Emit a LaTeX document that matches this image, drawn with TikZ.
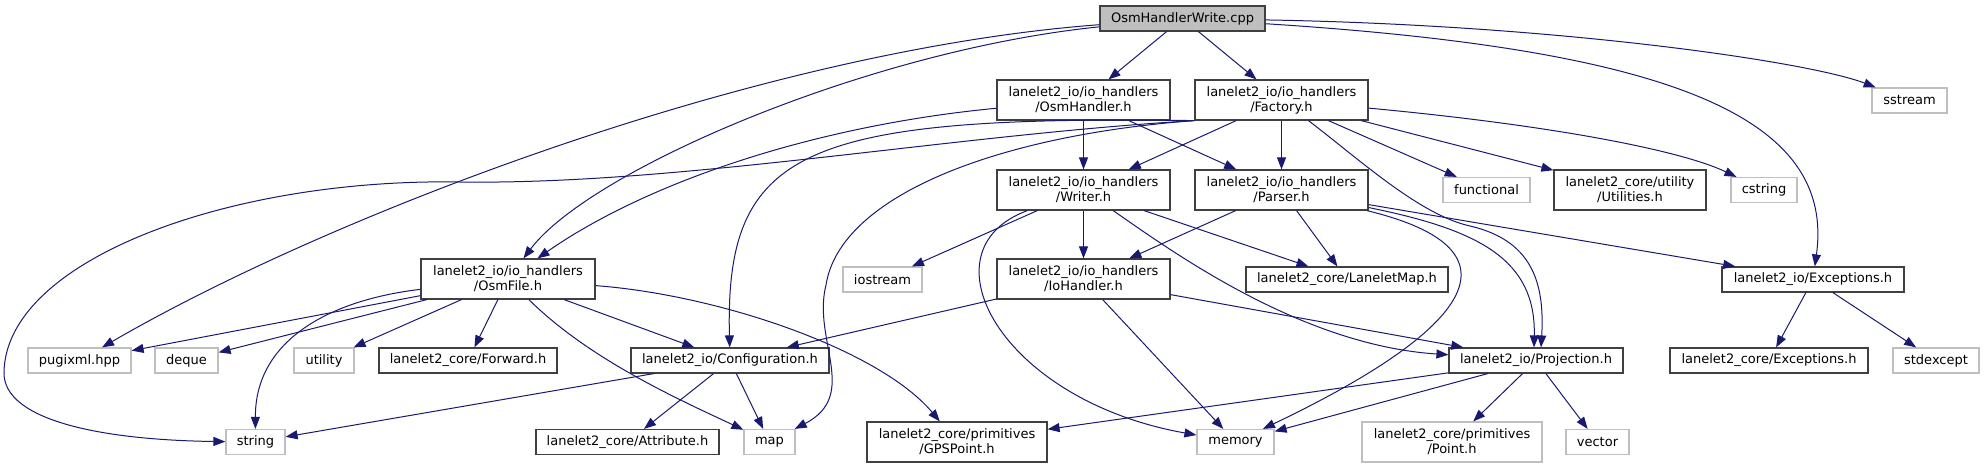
\documentclass[tikz,border=0pt]{standalone}
\usepackage{fontspec}
\setmainfont{DejaVu Sans}
\usepackage{tikz}
\usetikzlibrary{arrows.meta}
\definecolor{edgeblue}{HTML}{191970}
\definecolor{extgray}{HTML}{BFBFBF}
\definecolor{docgray}{HTML}{404040}
\tikzset{
filebox/.style={
  draw=docgray,
  line width=1.2pt,
  fill=white,
  inner sep=0pt,
  minimum height=25pt,
  align=center,
  font=\fontsize{13}{15}\selectfont
  },
docbox/.style={filebox},
extbox/.style={filebox, draw=extgray},
rootbox/.style={filebox, fill=extgray},
tall/.style={minimum height=40pt},
line/.style={->,>={Triangle[length=12pt,width=9pt]}, draw=edgeblue, line width=1pt}
}
\begin{document}
\begin{tikzpicture}[x=1pt,y=-1pt]
\useasboundingbox (0,0) rectangle (1985,469);
\node[rootbox, minimum width=165] (root) at (1182.5,18.5) {OsmHandlerWrite.cpp};

\node[docbox, tall, minimum width=173] (osmhandler) at (1083.5,100) {lanelet2\_io/io\_handlers\\/OsmHandler.h};
\node[docbox, tall, minimum width=173] (factory) at (1281.5,100) {lanelet2\_io/io\_handlers\\/Factory.h};
\node[extbox, minimum width=75] (sstream) at (1909.5,100.5) {sstream};

\node[docbox, tall, minimum width=173] (writer) at (1083.5,190) {lanelet2\_io/io\_handlers\\/Writer.h};
\node[docbox, tall, minimum width=173] (parser) at (1281.5,190) {lanelet2\_io/io\_handlers\\/Parser.h};
\node[extbox, minimum width=87] (functional) at (1486.5,190) {functional};
\node[docbox, tall, minimum width=152] (utilities) at (1630,190) {lanelet2\_core/utility\\/Utilities.h};
\node[extbox, minimum width=66] (cstring) at (1764,190) {cstring};

\node[docbox, tall, minimum width=174] (osmfile) at (508,279) {lanelet2\_io/io\_handlers\\/OsmFile.h};
\node[extbox, minimum width=79] (iostream) at (882.5,279.5) {iostream};
\node[docbox, tall, minimum width=173] (iohandler) at (1083.5,279) {lanelet2\_io/io\_handlers\\/IoHandler.h};
\node[docbox, minimum width=202] (laneletmap) at (1347,279.5) {lanelet2\_core/LaneletMap.h};
\node[docbox, minimum width=182] (ioexc) at (1813,279.5) {lanelet2\_io/Exceptions.h};

\node[extbox, minimum width=103] (pugixml) at (79.5,360.5) {pugixml.hpp};
\node[extbox, minimum width=63] (deque) at (186.5,360.5) {deque};
\node[extbox, minimum width=60] (utility) at (324,360.5) {utility};
\node[docbox, minimum width=178] (forward) at (468,360.5) {lanelet2\_core/Forward.h};
\node[docbox, minimum width=198] (config) at (730,360.5) {lanelet2\_io/Configuration.h};
\node[docbox, minimum width=174] (projection) at (1536,360.5) {lanelet2\_io/Projection.h};
\node[docbox, minimum width=198] (coreexc) at (1769,360.5) {lanelet2\_core/Exceptions.h};
\node[extbox, minimum width=86] (stdexcept) at (1936,360.5) {stdexcept};

\node[extbox, minimum width=59] (string) at (255.5,442) {string};
\node[docbox, minimum width=183] (attribute) at (627.5,442) {lanelet2\_core/Attribute.h};
\node[extbox, minimum width=51] (map) at (769.5,442) {map};
\node[docbox, tall, minimum width=180] (gpspoint) at (957,442) {lanelet2\_core/primitives\\/GPSPoint.h};
\node[extbox, minimum width=77] (memory) at (1235.5,442) {memory};
\node[extbox, tall, minimum width=180] (point) at (1452,442) {lanelet2\_core/primitives\\/Point.h};
\node[extbox, minimum width=63] (vector) at (1597.5,442) {vector};

\draw[line] (root) -- (osmhandler);
\draw[line] (root) -- (factory);
\draw[line] (root) .. controls (1560,25) and (1810,62) .. (sstream);
\draw[line] (root) .. controls (1680,50) and (1835,120) .. (ioexc);
\draw[line] (root) .. controls (870,50) and (590,170) .. (osmfile);
\draw[line] (root) .. controls (760,50) and (330,215) .. (pugixml);

\draw[line] (osmhandler) -- (writer);
\draw[line] (osmhandler) -- (parser);
\draw[line] (osmhandler) .. controls (820,125) and (650,180) .. (osmfile);

\draw[line] (factory) -- (writer);
\draw[line] (factory) -- (parser);
\draw[line] (factory) -- (functional);
\draw[line] (factory) -- (utilities);
\draw[line] (factory) .. controls (1550,125) and (1680,150) .. (cstring);
\draw[line] (factory) .. controls (1360,160) and (1420,215) .. (1470,226)
  .. controls (1530,240) and (1545,280) .. ([xshift=5]projection.north);
\draw[line] (factory.south west) .. controls (800,115) and (725,150) .. (config);
\draw[line] (factory.south west) .. controls (1000,135) and (840,195) .. (826,285)
  .. controls (812,340) and (860,395) .. (map);
\draw[line] (factory.south west) .. controls (950,135) and (680,185) .. (460,182)
  .. controls (230,178) and (5,260) .. (4,373) .. controls (4,420) and (100,440) .. (string);

\draw[line] (writer) -- (iohandler);
\draw[line] (writer) -- (iostream);
\draw[line] (writer) .. controls (920,250) and (1000,400) .. (memory);
\draw[line] (writer) -- (laneletmap);
\draw[line] (writer) .. controls (1170,250) and (1300,345) .. (projection);

\draw[line] (parser) -- (iohandler);
\draw[line] (parser) -- (laneletmap);
\draw[line] (parser) .. controls (1480,230) and (1536,260) .. ([xshift=-2]projection.north);
\draw[line] (parser) .. controls (1530,250) and (1470,330) .. (memory);
\draw[line] (parser) -- (ioexc);

\draw[line] (iohandler) -- (config);
\draw[line] (iohandler) -- (memory);
\draw[line] (iohandler) -- (projection);

\draw[line] (osmfile) -- (pugixml);
\draw[line] (osmfile) -- (deque);
\draw[line] (osmfile) -- (utility);
\draw[line] (osmfile) -- (forward);
\draw[line] (osmfile) -- (config);
\draw[line] (osmfile) .. controls (330,300) and (255,340) .. (string);
\draw[line] (osmfile) .. controls (590,360) and (680,400) .. (map);
\draw[line] (osmfile) .. controls (720,295) and (880,350) .. (gpspoint);

\draw[line] (config) -- (string);
\draw[line] (config) -- (attribute);
\draw[line] (config) -- (map);

\draw[line] (ioexc) -- (coreexc);
\draw[line] (ioexc) -- (stdexcept);

\draw[line] (projection) -- (gpspoint);
\draw[line] (projection) -- (memory);
\draw[line] (projection) -- (point);
\draw[line] (projection) -- (vector);
\end{tikzpicture}
\end{document}
